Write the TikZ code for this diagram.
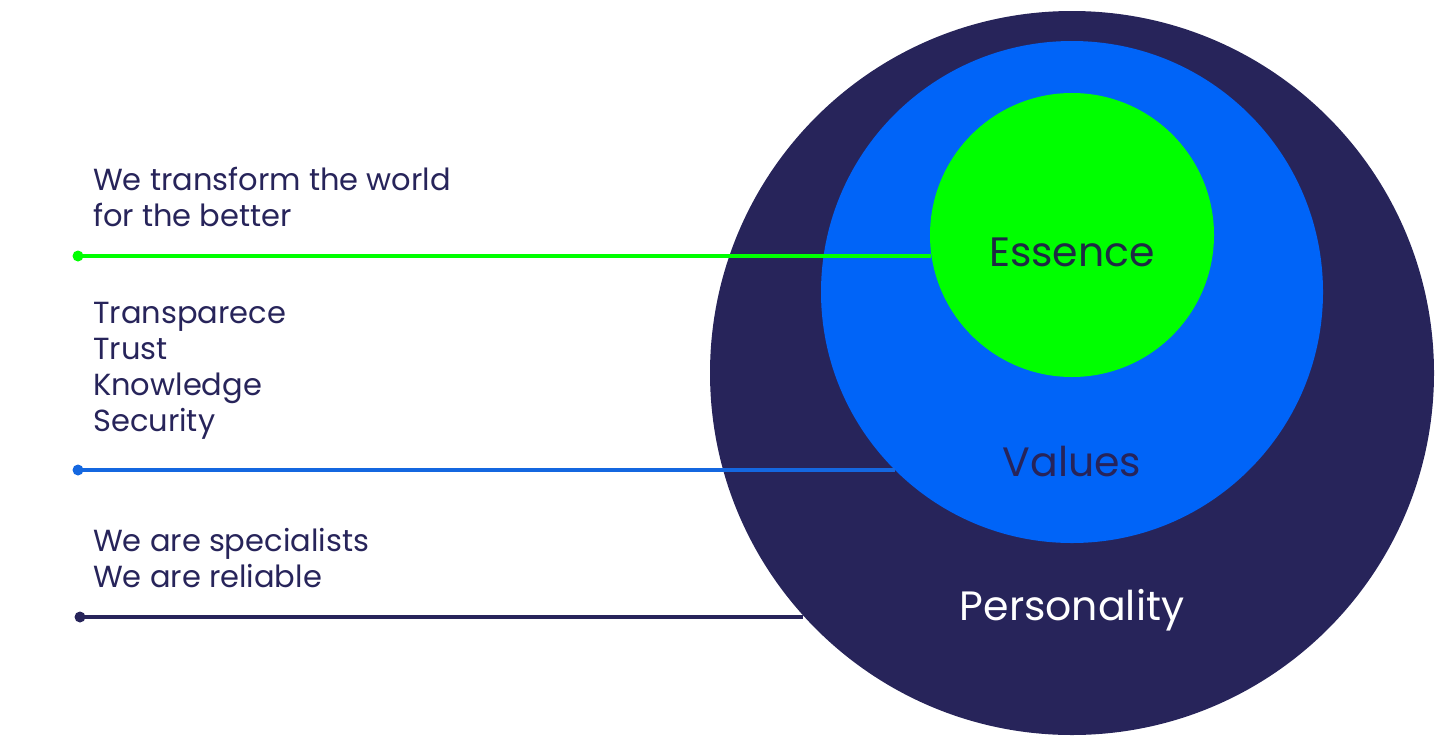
\documentclass[tikz,border=0pt]{standalone}
\usepackage{fontspec}
\setmainfont{Poppins}
\usetikzlibrary{positioning}
\definecolor{navy}{HTML}{27245A}
\definecolor{valblue}{HTML}{0064F8}
\definecolor{essgreen}{HTML}{00FF00}
\definecolor{lineblue}{HTML}{1467E0}
\definecolor{inkdark}{HTML}{1E2A44}

\begin{document}
\begin{tikzpicture}[x=1pt, y=-1pt,
    ring/.style={circle, inner sep=0pt, outer sep=0pt},
    lbl/.style={font=\fontsize{41}{48}\selectfont, inner sep=0pt},
    note/.style={anchor=base west, align=left, text=navy, inner sep=0pt,
                 font=\fontsize{30.5}{36}\selectfont},
    lead/.style={line width=3.5pt},
    tip/.style={circle, fill, inner sep=0pt, minimum size=11pt}]
  \useasboundingbox (0,0) rectangle (1451,753);
  % rings
  \node[ring, fill=navy, minimum size=724pt] (persona) at (1072,373) {};
  \node[ring, fill=valblue, minimum size=502pt] (values) at (1072,292) {};
  \node[ring, fill=essgreen, minimum size=284pt] (essence) at (1072,235) {};
  \node[lbl, text=inkdark] (esslbl) at (1072,252) {Essence};
  \node[lbl, text=navy] (vallbl) at (1072,462) {Values};
  \node[lbl, text=white] (perlbl) at (1072,610) {Personality};
  % notes on the left (base = last line)
  \node[note] (n1) at (93,226) {We transform the world\\for the better};
  \node[note] (n2) at (93,431) {Transparece\\Trust\\Knowledge\\Security};
  \node[note] (n3) at (93,587) {We are specialists\\We are reliable};
  % leaders
  \node[tip, essgreen] (d1) at (78,256) {};
  \node[tip, lineblue] (d2) at (78,470) {};
  \node[tip, navy] (d3) at (80,617) {};
  \draw[lead, essgreen] (d1.center) -- (d1 -| essence.188);
  \draw[lead, lineblue] (d2.center) -- (d2 -| values.225);
  \draw[lead, navy] (d3.center) -- (d3 -| persona.222);
\end{tikzpicture}
\end{document}
